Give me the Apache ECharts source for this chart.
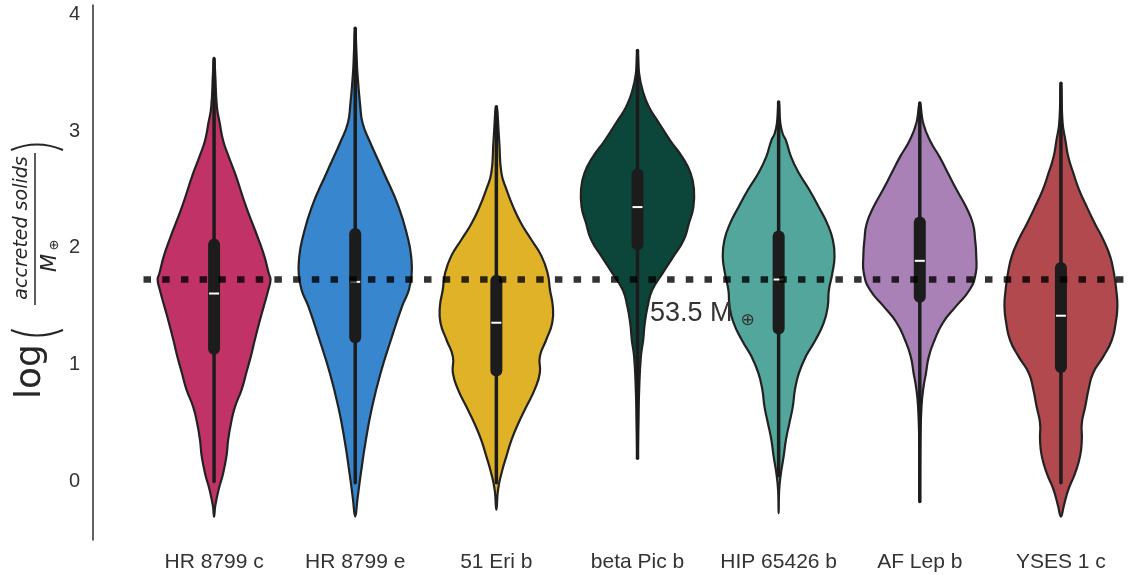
<!DOCTYPE html>
<html>
<head>
<meta charset="utf-8">
<script src="https://cdn.jsdelivr.net/npm/echarts@6/dist/echarts.min.js"></script>
<style>
  html, body { margin: 0; padding: 0; background: #fff; }
  #chart { width: 1133px; height: 575px; }
</style>
</head>
<body>
<div id="chart"></div>
<script>
// Planets on the x axis
const planets = ['HR 8799 c', 'HR 8799 e', '51 Eri b', 'beta Pic b', 'HIP 65426 b', 'AF Lep b', 'YSES 1 c'];

// Density profiles: [log accreted solids, relative half-width (1 = widest)]
const densHR8799c = [[3.63,0],[3.49,0.02],[3.21,0.05],[3.07,0.10],[2.92,0.16],[2.78,0.26],[2.64,0.37],[2.35,0.57],[2.07,0.79],[1.93,0.89],[1.78,0.97],[1.73,1.0],[1.64,0.96],[1.50,0.88],[1.36,0.80],[1.21,0.72],[1.07,0.65],[0.93,0.57],[0.79,0.49],[0.64,0.37],[0.50,0.30],[0.36,0.25],[0.22,0.22],[0.07,0.16],[-0.07,0.08],[-0.21,0.02],[-0.30,0]];
const densHR8799e = [[3.88,0],[3.70,0.02],[3.49,0.04],[3.21,0.09],[3.07,0.13],[2.92,0.25],[2.64,0.51],[2.35,0.77],[2.07,0.94],[1.93,0.99],[1.78,1.0],[1.64,0.95],[1.50,0.83],[1.21,0.63],[0.93,0.45],[0.64,0.30],[0.36,0.19],[0.07,0.10],[-0.15,0.04],[-0.30,0]];
const dens51Erib = [[3.21,0],[2.92,0.05],[2.64,0.09],[2.50,0.18],[2.35,0.30],[2.21,0.44],[2.07,0.62],[1.93,0.80],[1.78,0.91],[1.64,0.95],[1.50,1.0],[1.36,0.99],[1.21,0.88],[1.07,0.77],[0.93,0.77],[0.79,0.68],[0.64,0.53],[0.50,0.39],[0.36,0.27],[0.22,0.18],[0.07,0.09],[-0.07,0.03],[-0.24,0]];
const densBetaPicb = [[3.69,0],[3.49,0.03],[3.35,0.09],[3.21,0.20],[3.07,0.38],[2.92,0.58],[2.78,0.79],[2.64,0.94],[2.50,1.0],[2.35,0.99],[2.21,0.91],[2.07,0.82],[1.93,0.64],[1.78,0.44],[1.64,0.26],[1.50,0.18],[1.36,0.13],[1.21,0.10],[1.07,0.06],[0.79,0.03],[0.50,0.015],[0.20,0]];
const densHIP65426b = [[3.25,0],[3.07,0.03],[2.98,0.07],[2.92,0.13],[2.78,0.22],[2.64,0.36],[2.50,0.54],[2.35,0.71],[2.21,0.86],[2.07,0.96],[1.93,0.99],[1.78,0.95],[1.64,0.89],[1.50,0.87],[1.36,0.80],[1.21,0.65],[1.07,0.48],[0.93,0.36],[0.79,0.29],[0.64,0.25],[0.50,0.19],[0.36,0.13],[0.22,0.09],[0.07,0.04],[-0.07,0.01],[-0.27,0]];
const densAFLepb = [[3.24,0],[3.07,0.06],[2.92,0.18],[2.78,0.35],[2.64,0.50],[2.50,0.65],[2.35,0.82],[2.21,0.94],[2.07,0.98],[1.93,1.0],[1.78,0.99],[1.64,0.88],[1.50,0.64],[1.36,0.41],[1.21,0.26],[1.07,0.16],[0.93,0.11],[0.79,0.06],[0.64,0.03],[0.36,0.01],[-0.17,0]];
const densYSES1c = [[3.41,0],[3.07,0.03],[2.92,0.08],[2.78,0.13],[2.64,0.22],[2.50,0.32],[2.35,0.46],[2.21,0.60],[2.07,0.75],[1.93,0.87],[1.78,0.94],[1.64,0.98],[1.50,1.0],[1.36,0.97],[1.21,0.90],[1.07,0.75],[0.93,0.57],[0.79,0.49],[0.64,0.43],[0.50,0.37],[0.36,0.37],[0.22,0.34],[0.07,0.25],[-0.07,0.13],[-0.21,0.05],[-0.30,0]];

// Box summary per planet
const whiskerLow  = [0.00, -0.01, -0.01, 0.20, 0.05, -0.17, -0.01];
const quartile1   = [1.085, 1.185, 0.90, 1.98, 1.26, 1.53, 0.93];
const medians     = [1.61, 1.71, 1.36, 2.35, 1.73, 1.89, 1.42];
const quartile3   = [2.08, 2.17, 1.77, 2.68, 2.15, 2.27, 1.88];
const whiskerHigh = [3.62, 3.88, 3.21, 3.69, 3.25, 3.24, 3.41];

// Reference mass in Earth masses
const refMass = 53.5;
const yTicks = [0, 1, 2, 3, 4];

const profiles = [densHR8799c, densHR8799e, dens51Erib, densBetaPicb, densHIP65426b, densAFLepb, densYSES1c];
const palette = ['#C13366', '#3886CD', '#DFB227', '#0C463B', '#53A69B', '#A981B7', '#B1494F'];

const chart = echarts.init(document.getElementById('chart'), null, { renderer: 'canvas' });

function renderViolin(params, api) {
  const i = api.value(0);
  const prof = profiles[i];
  const half = api.size([1, 0])[0] * 0.4;
  const cx = api.coord([i, 0])[0];
  const left = [], right = [];
  prof.forEach(function (p, k) {
    const y = api.coord([i, p[0]])[1];
    left.push([cx - p[1] * half, y]);
    if (k > 0 && k < prof.length - 1) right.push([cx + p[1] * half, y]);
  });
  const pts = left.concat(right.reverse());
  return {
    type: 'polygon',
    shape: { points: pts, smooth: 0.5 },
    style: { fill: palette[i], stroke: '#222', lineWidth: 2.2 }
  };
}

function renderBox(params, api) {
  const i = api.value(0);
  const cx = api.coord([i, 0])[0];
  const yLo = api.coord([i, whiskerLow[i]])[1];
  const yHi = api.coord([i, whiskerHigh[i]])[1];
  const yQ1 = api.coord([i, quartile1[i]])[1];
  const yQ3 = api.coord([i, quartile3[i]])[1];
  const yMed = api.coord([i, medians[i]])[1];
  return {
    type: 'group',
    children: [
      { type: 'line', shape: { x1: cx, y1: yHi, x2: cx, y2: yLo },
        style: { stroke: '#1c1c1c', lineWidth: 3.5, lineCap: 'round' } },
      { type: 'rect', shape: { x: cx - 6, y: yQ3, width: 12, height: yQ1 - yQ3, r: 6 },
        style: { fill: '#1c1c1c' } },
      { type: 'line', shape: { x1: cx - 5, y1: yMed, x2: cx + 5, y2: yMed },
        style: { stroke: '#ffffff', lineWidth: 2 } }
    ]
  };
}

const idxData = planets.map(function (p, i) { return [i, medians[i]]; });

chart.setOption({
  backgroundColor: '#ffffff',
  animation: false,
  grid: { left: 143.5, right: 1.5, top: 5, bottom: 35 },
  xAxis: {
    type: 'category',
    data: planets,
    boundaryGap: true,
    axisLine: { show: false },
    axisTick: { show: false },
    splitLine: { show: false },
    axisLabel: { interval: 0, fontSize: 21, color: '#333', fontFamily: 'Liberation Sans', margin: 12 }
  },
  yAxis: {
    type: 'value',
    min: -0.5,
    max: 4.08,
    offset: 50.5,
    axisLine: { show: true, lineStyle: { color: '#3a3a3a', width: 1.6 } },
    axisTick: { show: false },
    splitLine: { show: false },
    axisLabel: { customValues: yTicks, fontSize: 20, color: '#333', fontFamily: 'Liberation Sans', margin: 13 }
  },
  series: [
    {
      type: 'custom',
      name: 'violins',
      z: 2,
      renderItem: renderViolin,
      data: idxData,
      encode: { x: 0, y: 1 }
    },
    {
      type: 'line',
      name: 'reference',
      z: 3,
      data: [],
      markLine: {
        silent: true,
        symbol: ['none', 'none'],
        label: { show: false },
        lineStyle: { color: 'rgba(0,0,0,0.8)', width: 6.5, type: [7.5, 11.2], dashOffset: 0 },
        data: [{ yAxis: Math.log10(refMass) }]
      }
    },
    {
      type: 'custom',
      name: 'boxes',
      z: 4,
      renderItem: renderBox,
      data: idxData,
      encode: { x: 0, y: 1 }
    }
  ],
  graphic: [
    {
      type: 'group',
      x: 35, y: 400,
      rotation: Math.PI / 2,
      children: [
        { type: 'text', x: 1, y: -4,
          style: { text: 'log', font: '36px "DejaVu Sans"', fill: '#262626', align: 'left', verticalAlign: 'middle' } },
        { type: 'bezierCurve', shape: { x1: 70, y1: -24, cpx1: 59, cpy1: 2, x2: 70, y2: 28 },
          style: { fill: null, stroke: '#262626', lineWidth: 2 } },
        { type: 'text', x: 172, y: -13,
          style: { text: 'accreted solids', font: 'italic 19px "DejaVu Sans"', fill: '#262626', align: 'center', verticalAlign: 'middle' } },
        { type: 'line', shape: { x1: 95, y1: 0, x2: 247, y2: 0 },
          style: { stroke: '#262626', lineWidth: 1.5 } },
        { type: 'text', x: 137, y: 16,
          style: { text: 'M', font: 'italic 21px "DejaVu Sans"', fill: '#262626', align: 'center', verticalAlign: 'middle' } },
        { type: 'text', x: 155, y: 20,
          style: { text: '⊕', font: '13px "DejaVu Sans"', fill: '#262626', align: 'center', verticalAlign: 'middle' } },
        { type: 'bezierCurve', shape: { x1: 250, y1: -24, cpx1: 261, cpy1: 2, x2: 250, y2: 28 },
          style: { fill: null, stroke: '#262626', lineWidth: 2 } }
      ]
    },
    {
      type: 'text', left: 650, top: 300, z: 100,
      style: {
        text: '53.5 M{o|⊕}',
        font: '27px "Liberation Sans"',
        fill: '#333',
        rich: { o: { fontFamily: 'DejaVu Sans', fontSize: 17, fill: '#333', padding: [14, 0, 0, 8] } }
      }
    }
  ]
});
</script>
</body>
</html>
